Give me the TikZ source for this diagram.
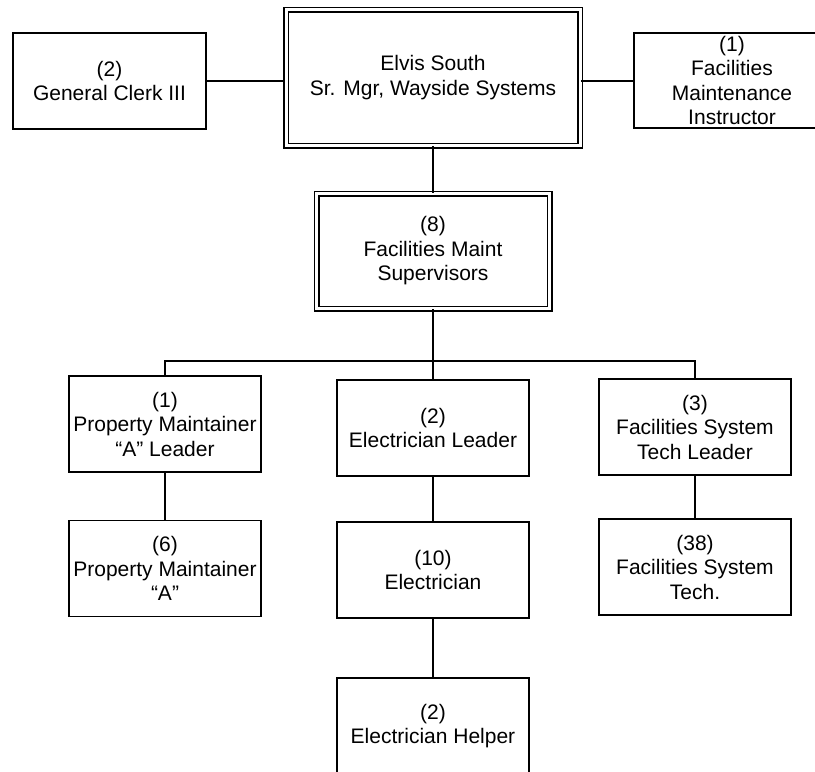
\documentclass[tikz,border=0pt]{standalone}
\usepackage{fontspec}
\setmainfont{Liberation Sans}
\begin{document}
\begin{tikzpicture}[x=1pt,y=-1pt,
  box/.style={draw, line width=1.9pt, inner sep=0pt, align=center,
    minimum width=192pt, minimum height=96pt,
    font=\fontsize{21}{24.5}\selectfont},
  dbox/.style={box, double, double distance=3pt, line width=1.5pt},
  conn/.style={line width=2pt}]
\useasboundingbox (0,0) rectangle (815,772);
\clip (0,0) rectangle (815,772);
\fill[white] (0,0) rectangle (815,772);
\node[dbox, minimum width=294pt, minimum height=136pt] (top) at (433,77.5) {Elvis South\\Sr. Mgr, Wayside Systems};
\node[box, minimum width=193pt] (gc) at (109.5,81) {(2)\\General Clerk III};
\node[box, minimum width=196pt, minimum height=95pt] (fmi) at (732,80.5) {(1)\\Facilities\\Maintenance\\Instructor};
\node[dbox, minimum width=233pt, minimum height=115pt] (sup) at (433,251) {(8)\\Facilities Maint\\Supervisors};
\node[box] (pml) at (165,424) {(1)\\Property Maintainer\\\textquotedblleft A\textquotedblright{} Leader};
\node[box] (el) at (433,428) {(2)\\Electrician Leader};
\node[box] (fstl) at (695,427) {(3)\\Facilities System\\Tech Leader};
\node[box] (pma) at (165,568.5) {(6)\\Property Maintainer\\\textquotedblleft A\textquotedblright};
\node[box] (elc) at (433,570) {(10)\\Electrician};
\node[box] (fst) at (695,567) {(38)\\Facilities System\\Tech.};
\node[box] (eh) at (433,726) {(2)\\Electrician Helper};
\coordinate (bus) at (433,361);
\draw[conn] (gc.east) -- (gc.east -| top.west);
\draw[conn] (fmi.west) -- (fmi.west -| top.east);
\draw[conn] (top.south) -- (sup.north);
\draw[conn] (sup.south) -- (bus);
\draw[conn] (pml.north) |- (bus) -| (fstl.north);
\draw[conn] (bus) -- (el.north);
\draw[conn] (pml.south) -- (pma.north);
\draw[conn] (el.south) -- (elc.north);
\draw[conn] (fstl.south) -- (fst.north);
\draw[conn] (elc.south) -- (eh.north);
\end{tikzpicture}
\end{document}
